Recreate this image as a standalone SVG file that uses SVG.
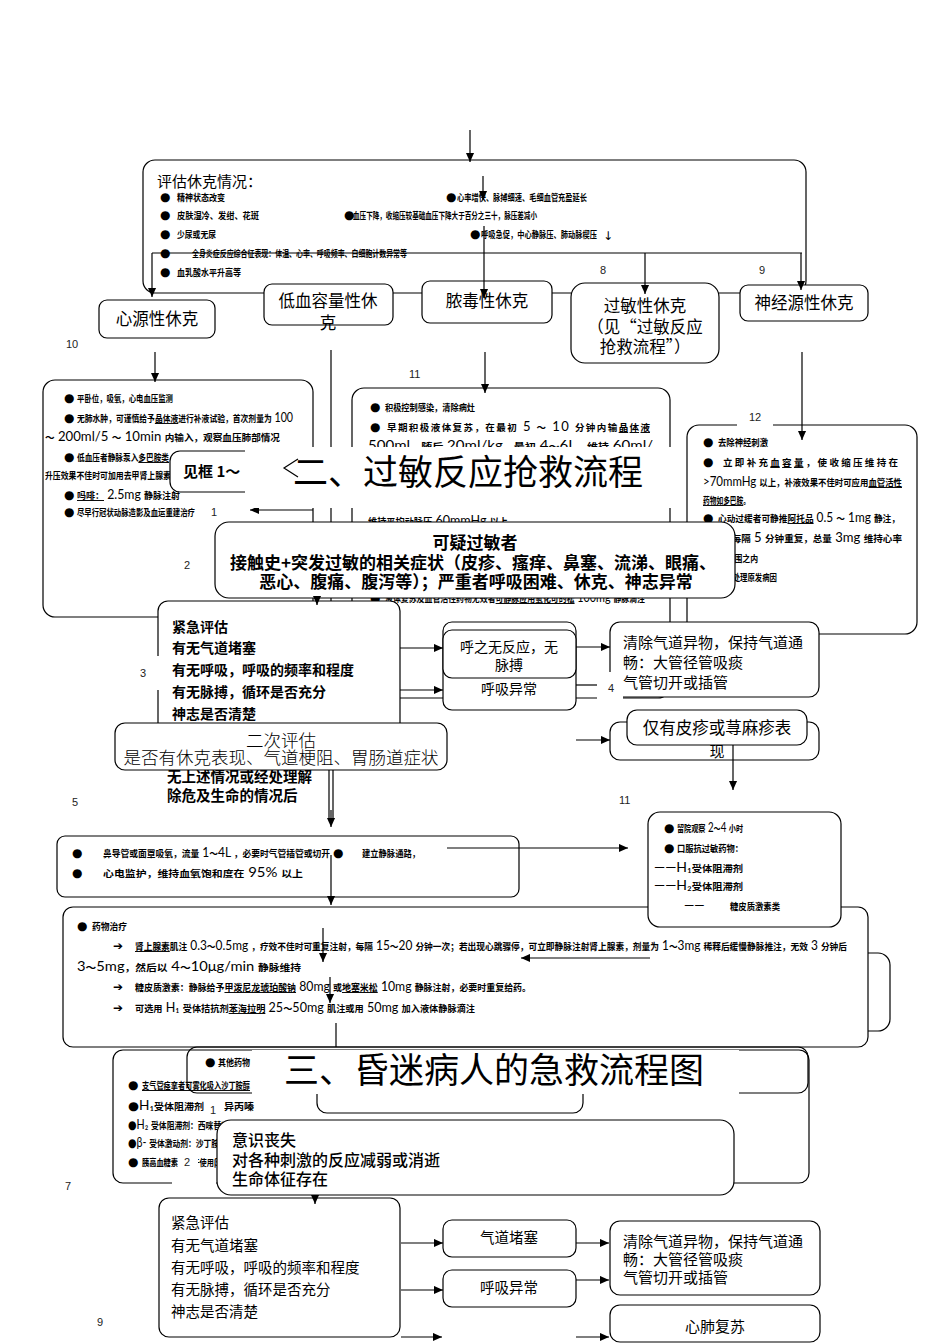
<svg xmlns="http://www.w3.org/2000/svg" width="950" height="1344" viewBox="0 0 950 1344">
<defs>
<marker id="ah" viewBox="0 0 10 10" refX="10" refY="5" markerWidth="9" markerHeight="9" markerUnits="userSpaceOnUse" orient="auto"><path d="M0,0.5 L10,5 L0,9.5 z" fill="#000"/></marker>
<style>
.b{fill:#fff;stroke:#000;stroke-width:1.2}
.o{fill:none;stroke:#000;stroke-width:1.2}
.ln{fill:none;stroke:#000;stroke-width:1.2}
.ar{fill:none;stroke:#000;stroke-width:1.2;marker-end:url(#ah)}
.t{font-family:Lato,"Liberation Sans","Noto Sans CJK SC",sans-serif;font-size:13px;fill:#000}
.c{font-family:"Noto Sans CJK SC",sans-serif;font-size:9.5px;font-weight:700}
.u{text-decoration:underline}
.d{font-family:"DejaVu Sans",sans-serif;font-size:12px;fill:#000}
.n{font-family:"Liberation Sans",Arial,sans-serif;font-size:11px;fill:#222}
.k{font-family:"Noto Sans CJK SC",sans-serif;fill:#000}
.s{font-family:"Noto Sans CJK SC",sans-serif;font-size:16.5px;fill:#000;text-anchor:middle}
.w{fill:#fff;stroke:none}
</style>
</defs>
<rect width="950" height="1344" fill="#fff"/>

<!-- top assessment box -->
<g id="assess-shock">
<rect class="b" x="143" y="160" width="663" height="133" rx="12"/>
<text class="k" x="157" y="187" font-size="15" fill="#222">评估休克情况：</text>
<text class="d" x="160" y="201">●</text><text class="t" x="177" y="201" textLength="48" lengthAdjust="spacingAndGlyphs"><tspan class="c">精神状态改变</tspan></text>
<text class="d" x="446" y="201">●</text><text class="t" x="457" y="201" textLength="130" lengthAdjust="spacingAndGlyphs"><tspan class="c">心率增快、脉搏细速、毛细血管充盈延长</tspan></text>
<text class="d" x="160" y="219">●</text><text class="t" x="177" y="219" textLength="82" lengthAdjust="spacingAndGlyphs"><tspan class="c">皮肤湿冷、发绀、花斑</tspan></text>
<text class="d" x="344" y="219">●</text><text class="t" x="353" y="219" textLength="184" lengthAdjust="spacingAndGlyphs"><tspan class="c">血压下降，收缩压较基础血压下降大于百分之三十，脉压差减小</tspan></text>
<text class="d" x="160" y="238">●</text><text class="t" x="177" y="238" textLength="39" lengthAdjust="spacingAndGlyphs"><tspan class="c">少尿或无尿</tspan></text>
<text class="d" x="470" y="238">●</text><text class="t" x="481" y="238" textLength="116" lengthAdjust="spacingAndGlyphs"><tspan class="c">呼吸急促，中心静脉压、肺动脉楔压</tspan></text>
<text class="d" x="603" y="240" font-size="11">↓</text>
<text class="d" x="160" y="257">●</text><text class="t" x="192" y="257" textLength="215" lengthAdjust="spacingAndGlyphs"><tspan class="c">全身炎症反应综合征表现：体温、心率、呼吸频率、白细胞计数异常等</tspan></text>
<text class="d" x="160" y="276">●</text><text class="t" x="177" y="276" textLength="64" lengthAdjust="spacingAndGlyphs"><tspan class="c">血乳酸水平升高等</tspan></text>
</g>

<!-- shock type nodes -->
<g id="cardiogenic"><rect class="b" x="99" y="300" width="116" height="38" rx="8"/><text class="s" x="157" y="325">心源性休克</text></g>
<g id="hypovolemic"><rect class="b" x="264" y="284" width="129" height="41" rx="8"/><text class="s" x="328" y="307">低血容量性休</text><text class="s" x="328" y="329">克</text></g>
<g id="septic"><rect class="b" x="422" y="281" width="130" height="42" rx="8"/><text class="s" x="487" y="307">脓毒性休克</text></g>
<g id="anaphylactic"><rect class="b" x="571" y="283" width="148" height="80" rx="14"/><text class="s" x="645" y="312">过敏性休克</text><text class="s" x="645" y="333">（见“过敏反应</text><text class="s" x="645" y="353">抢救流程”）</text></g>
<g id="neurogenic"><rect class="b" x="740" y="285" width="128" height="36" rx="8"/><text class="s" x="804" y="309">神经源性休克</text></g>

<g id="connectors-top">
<path class="ar" d="M470,130 V162"/>
<path class="ar" d="M483,176 V200"/>
<path class="ln" d="M152,253 H802"/>
<path class="ar" d="M152,253 V297"/>
<path class="ar" d="M645,253 V294"/>
<path class="ar" d="M801,253 V290"/>
<path class="ar" d="M484,226 V298"/>
</g>

<!-- treatment boxes -->
<g id="cardiogenic-care">
<rect class="b" x="43" y="380" width="270" height="237" rx="12"/>
<text class="d" x="64" y="402">●</text><text class="t" x="77" y="402" textLength="96" lengthAdjust="spacingAndGlyphs"><tspan class="c">平卧位，吸氧，心电血压监测</tspan></text>
<text class="d" x="64" y="422">●</text><text class="t" x="77" y="422" textLength="216" lengthAdjust="spacingAndGlyphs"><tspan class="c">无肺水肿，可谨慎给予</tspan><tspan class="c u">晶体液</tspan><tspan class="c">进行补液试验，首次剂量为</tspan> 100</text>
<text class="t" x="45" y="441" textLength="235" lengthAdjust="spacingAndGlyphs"><tspan class="c">～</tspan> 200ml/5 <tspan class="c">～</tspan> 10min <tspan class="c">内输入，观察血压肺部情况</tspan></text>
<text class="d" x="64" y="461">●</text><text class="t" x="77" y="461" textLength="92" lengthAdjust="spacingAndGlyphs"><tspan class="c">低血压者静脉泵入</tspan><tspan class="c u">多巴胺类</tspan></text>
<text class="t" x="45" y="479" textLength="126" lengthAdjust="spacingAndGlyphs"><tspan class="c">升压效果不佳时可加用去甲肾上腺素</tspan></text>
<text class="d" x="64" y="499">●</text><text class="t" x="77" y="499" textLength="103" lengthAdjust="spacingAndGlyphs"><tspan class="c u">吗啡：</tspan> 2.5mg <tspan class="c">静脉注射</tspan></text>
<text class="d" x="64" y="516">●</text><text class="t" x="77" y="516" textLength="118" lengthAdjust="spacingAndGlyphs"><tspan class="c">尽早行冠状动脉造影及血运重建治疗</tspan></text>
</g>

<g id="septic-care">
<rect class="b" x="352" y="388" width="318" height="310" rx="12"/>
<text class="d" x="370" y="411">●</text><text class="t" x="385" y="411" textLength="90" lengthAdjust="spacingAndGlyphs"><tspan class="c">积极控制感染，清除病灶</tspan></text>
<text class="d" x="370" y="431">●</text><text class="t" x="387" y="431" textLength="263" lengthAdjust="spacing"><tspan class="c">早期积极液体复苏，在最初</tspan> 5 <tspan class="c">～</tspan> 10 <tspan class="c">分钟内输</tspan><tspan class="c u">晶体液</tspan></text>
<text class="t" x="368" y="450" textLength="285" lengthAdjust="spacingAndGlyphs">500ml<tspan class="c">，随后</tspan> 20ml/kg<tspan class="c">，最初</tspan> 4<tspan class="c">～</tspan>6L<tspan class="c">，维持</tspan> 60ml/</text>
<text class="t" x="368" y="525" textLength="140" lengthAdjust="spacingAndGlyphs"><tspan class="c">维持平均动脉压</tspan> 60mmHg <tspan class="c">以上</tspan></text>
<text class="d" x="370" y="602">●</text><text class="t" x="385" y="602" textLength="260" lengthAdjust="spacingAndGlyphs"><tspan class="c">液体复苏及血管活性药物无效者</tspan><tspan class="c u">可静脉应用氢化可的松</tspan> 100mg <tspan class="c">静脉滴注</tspan></text>
</g>

<g id="neurogenic-care">
<rect class="b" x="687" y="425" width="230" height="209" rx="12"/>
<text class="d" x="703" y="446">●</text><text class="t" x="718" y="446" textLength="50" lengthAdjust="spacingAndGlyphs"><tspan class="c">去除神经刺激</tspan></text>
<text class="d" x="703" y="466">●</text><text class="t" x="723" y="466" textLength="175" lengthAdjust="spacing"><tspan class="c">立即补充</tspan><tspan class="c u">血容量</tspan><tspan class="c">，使收缩压维持在</tspan></text>
<text class="t" x="703" y="486" textLength="199" lengthAdjust="spacingAndGlyphs">&gt;70mmHg <tspan class="c">以上，补液效果不佳时可应用</tspan><tspan class="c u">血管活性</tspan></text>
<text class="t" x="703" y="504" textLength="47" lengthAdjust="spacingAndGlyphs"><tspan class="c u">药物如多巴胺</tspan><tspan class="c">。</tspan></text>
<text class="d" x="703" y="522">●</text><text class="t" x="718" y="522" textLength="182" lengthAdjust="spacingAndGlyphs"><tspan class="c">心动过缓者可静推</tspan><tspan class="c u">阿托品</tspan> 0.5 <tspan class="c">～</tspan> 1mg <tspan class="c">静注，</tspan></text>
<text class="t" x="703" y="542" textLength="199" lengthAdjust="spacingAndGlyphs"><tspan class="c">必要时每隔</tspan> 5 <tspan class="c">分钟重复，总量</tspan> 3mg <tspan class="c">维持心率</tspan></text>
<text class="t" x="703" y="562" textLength="55" lengthAdjust="spacingAndGlyphs"><tspan class="c">在正常范围之内</tspan></text>
<text class="d" x="703" y="581">●</text><text class="t" x="718" y="581" textLength="59" lengthAdjust="spacingAndGlyphs"><tspan class="c">积极处理原发病因</tspan></text>
</g>

<g id="connectors-shock">
<path class="ar" d="M155,352 V382"/>
<path class="ln" d="M331,350 V612"/>
<path class="ar" d="M485,352 V393"/>
<path class="ar" d="M802,352 V440"/>
<path class="ar" d="M313,510 H250"/>
</g>

<g id="see-box"><rect class="b" x="170" y="451" width="110" height="41" rx="10"/><text class="k" x="183" y="477" font-size="15" font-weight="700">见框 1～</text></g>

<g id="title-allergy">
<rect class="w" x="245" y="447" width="440" height="61"/>
<polyline class="ln" points="298,459 284,468 298,477"/>
<text class="k" x="293" y="485" font-size="35">二、过敏反应抢救流程</text>
</g>

<g id="suspected-allergy">
<rect class="b" x="215" y="522" width="520" height="76" rx="14"/>
<text class="k" x="475" y="549" font-size="17" font-weight="700" text-anchor="middle">可疑过敏者</text>
<text class="k" x="473" y="569" font-size="17" font-weight="700" text-anchor="middle">接触史+突发过敏的相关症状（皮疹、瘙痒、鼻塞、流涕、眼痛、</text>
<text class="k" x="476" y="588" font-size="17" font-weight="700" text-anchor="middle">恶心、腹痛、腹泻等）；严重者呼吸困难、休克、神志异常</text>
</g>

<g id="urgent-assessment">
<rect class="b" x="158" y="601" width="242" height="159" rx="10"/>
<text class="k" x="172" y="632" font-size="14" font-weight="700">紧急评估</text>
<text class="k" x="172" y="653" font-size="14" font-weight="700">有无气道堵塞</text>
<text class="k" x="172" y="675" font-size="14" font-weight="700">有无呼吸，呼吸的频率和程度</text>
<text class="k" x="172" y="697" font-size="14" font-weight="700">有无脉搏，循环是否充分</text>
<text class="k" x="172" y="719" font-size="14" font-weight="700">神志是否清楚</text>
<text class="k" x="167" y="782" font-size="14.5" font-weight="700">无上述情况或经处理解</text>
<text class="k" x="167" y="801" font-size="14.5" font-weight="700">除危及生命的情况后</text>
</g>

<g id="breathing-abnormal">
<rect class="b" x="443" y="622" width="133" height="88" rx="9"/>
<text class="k" x="509" y="694" font-size="14" text-anchor="middle">呼吸异常</text>
</g>
<g id="no-response">
<rect class="b" x="443" y="630" width="133" height="48" rx="9"/>
<text class="k" x="509" y="652" font-size="14" text-anchor="middle">呼之无反应，无</text>
<text class="k" x="509" y="670" font-size="14" text-anchor="middle">脉搏</text>
</g>
<g id="clear-airway">
<rect class="b" x="610" y="622" width="209" height="75" rx="10"/>
<text class="k" x="623" y="648" font-size="15">清除气道异物，保持气道通</text>
<text class="k" x="623" y="668" font-size="15">畅：大管径管吸痰</text>
<text class="k" x="623" y="688" font-size="15">气管切开或插管</text>
</g>
<g id="rash-only">
<rect class="b" x="610" y="722" width="209" height="38" rx="10"/>
<text class="k" x="717" y="757" font-size="15" fill="#555" text-anchor="middle">现</text>
<rect class="b" x="627" y="710" width="180" height="35" rx="10"/>
<text class="k" x="717" y="734" font-size="16.5" text-anchor="middle">仅有皮疹或荨麻疹表</text>
</g>
<g id="secondary-assessment">
<rect class="b" x="115" y="723" width="332" height="47" rx="10"/>
<text class="k" x="281" y="747" font-size="17.5" font-weight="300" fill="#333" text-anchor="middle">二次评估</text>
<text class="k" x="281" y="764" font-size="17.5" font-weight="300" fill="#333" text-anchor="middle">是否有休克表现、气道梗阻、胃肠道症状</text>
</g>

<g id="connectors-allergy">
<path class="ar" d="M317,597 V605"/>
<path class="ar" d="M400,648 H443"/>
<path class="ar" d="M400,690 H443"/>
<path class="ln" d="M576,685 H598"/>
<path class="ar" d="M576,647 H610"/>
<path class="ar" d="M576,740 H610"/>
<path class="ar" d="M733,745 V790"/>
<path class="ln" d="M329,770 V818 M333,770 V818"/>
<path class="ar" d="M331,810 V827"/>
</g>

<g id="oxygen">
<rect class="b" x="57" y="836" width="462" height="61" rx="8"/>
<text class="d" x="72" y="857">●</text><text class="t" x="103" y="857" textLength="227" lengthAdjust="spacingAndGlyphs"><tspan class="c">鼻导管或面罩吸氧，流量</tspan> 1<tspan class="c">～</tspan>4L <tspan class="c">，必要时气管插管或切开</tspan></text>
<text class="d" x="333" y="857">●</text><text class="t" x="362" y="857" textLength="58" lengthAdjust="spacingAndGlyphs"><tspan class="c">建立静脉通路，</tspan></text>
<text class="d" x="72" y="877">●</text><text class="t" x="103" y="877" textLength="200" lengthAdjust="spacingAndGlyphs"><tspan class="c">心电监护，维持血氧饱和度在</tspan> 95% <tspan class="c">以上</tspan></text>
</g>

<g id="side-box"><rect class="b" x="700" y="953" width="190" height="78" rx="12"/></g>

<g id="drug-therapy">
<rect class="b" x="63" y="907" width="805" height="140" rx="10"/>
<text class="d" x="77" y="930">●</text><text class="t" x="92" y="930" textLength="35" lengthAdjust="spacingAndGlyphs"><tspan class="c">药物治疗</tspan></text>
<text class="d" x="113" y="950">➔</text><text class="t" x="135" y="950" textLength="712" lengthAdjust="spacingAndGlyphs"><tspan class="c u">肾上腺素</tspan><tspan class="c">肌注</tspan> 0.3<tspan class="c">～</tspan>0.5mg <tspan class="c">，疗效不佳时可重复注射，每隔</tspan> 15<tspan class="c">～</tspan>20 <tspan class="c">分钟一次；若出现心跳骤停，可立即静脉注射肾上腺素，剂量为</tspan> 1<tspan class="c">～</tspan>3mg <tspan class="c">稀释后缓慢静脉推注，无效</tspan> 3 <tspan class="c">分钟后</tspan></text>
<text class="t" x="77" y="971" textLength="224" lengthAdjust="spacingAndGlyphs">3<tspan class="c">～</tspan>5mg<tspan class="c">，然后以</tspan> 4<tspan class="c">～</tspan>10μg/min <tspan class="c">静脉维持</tspan></text>
<text class="d" x="113" y="991">➔</text><text class="t" x="135" y="991" textLength="396" lengthAdjust="spacingAndGlyphs"><tspan class="c">糖皮质激素：静脉给予</tspan><tspan class="c u">甲泼尼龙琥珀酸钠</tspan> 80mg <tspan class="c">或</tspan><tspan class="c u">地塞米松</tspan> 10mg <tspan class="c">静脉注射，必要时重复给药。</tspan></text>
<text class="d" x="113" y="1012">➔</text><text class="t" x="135" y="1012" textLength="340" lengthAdjust="spacingAndGlyphs"><tspan class="c">可选用</tspan> H₁ <tspan class="c">受体拮抗剂</tspan><tspan class="c u">苯海拉明</tspan> 25<tspan class="c">～</tspan>50mg <tspan class="c">肌注或用</tspan> 50mg <tspan class="c">加入液体静脉滴注</tspan></text>
</g>

<g id="observe">
<rect class="b" x="648" y="812" width="193" height="115" rx="12"/>
<text class="d" x="664" y="832">●</text><text class="t" x="677" y="832" textLength="66" lengthAdjust="spacingAndGlyphs"><tspan class="c">留院观察</tspan> 2<tspan class="c">～</tspan>4 <tspan class="c">小时</tspan></text>
<text class="d" x="664" y="852">●</text><text class="t" x="677" y="852" textLength="66" lengthAdjust="spacingAndGlyphs"><tspan class="c">口服抗过敏药物：</tspan></text>
<text class="t" x="654" y="872" textLength="89" lengthAdjust="spacingAndGlyphs">——H₁<tspan class="c">受体阻滞剂</tspan></text>
<text class="t" x="654" y="890" textLength="89" lengthAdjust="spacingAndGlyphs">——H₂<tspan class="c">受体阻滞剂</tspan></text>
<text class="t" x="684" y="910">——</text><text class="t" x="730" y="910" textLength="50" lengthAdjust="spacingAndGlyphs"><tspan class="c">糖皮质激素类</tspan></text>
</g>

<g id="connectors-drug">
<path class="ar" d="M447,848 H628"/>
<path class="ar" d="M331,855 V905"/>
<path class="ar" d="M650,958 H521"/>
<path class="ar" d="M323,928 V962"/>
<path class="ar" d="M330,977 V1003"/>
<path class="ln" d="M336,1023 V1047"/>
</g>

<g id="other-drugs">
<rect class="b" x="113" y="1050" width="696" height="133" rx="10"/>
<rect class="o" x="187" y="1047" width="621" height="46" rx="10"/>
<rect class="b" x="317" y="1070" width="266" height="43" rx="10"/>
<text class="d" x="205" y="1066">●</text><text class="t" x="218" y="1066" textLength="32" lengthAdjust="spacingAndGlyphs"><tspan class="c">其他药物</tspan></text>
<text class="d" x="128" y="1089">●</text><text class="t" x="142" y="1089" textLength="108" lengthAdjust="spacingAndGlyphs"><tspan class="c u">支气管痉挛者可雾化吸入沙丁胺醇</tspan></text>
<text class="t" x="128" y="1110" textLength="126" lengthAdjust="spacingAndGlyphs"><tspan class="d">●</tspan>H₁<tspan class="c">受体阻滞剂，如异丙嗪</tspan></text>
<text class="t" x="128" y="1129" textLength="140" lengthAdjust="spacingAndGlyphs"><tspan class="d">●</tspan>H₂ <tspan class="c">受体阻滞剂：西咪替丁、雷尼替丁</tspan></text>
<text class="t" x="128" y="1147" textLength="130" lengthAdjust="spacingAndGlyphs"><tspan class="d">●</tspan>β- <tspan class="c">受体激动剂：沙丁胺醇雾化吸入</tspan></text>
<text class="d" x="128" y="1166">●</text><text class="t" x="142" y="1166" textLength="120" lengthAdjust="spacingAndGlyphs"><tspan class="c">胰高血糖素，用于使用β受体阻滞剂者</tspan></text>
</g>

<g id="title-coma">
<rect class="w" x="252" y="1050" width="487" height="44"/>
<text class="k" x="284" y="1083" font-size="35">三、昏迷病人的急救流程图</text>
</g>

<g id="unconscious">
<rect class="b" x="217" y="1120" width="517" height="75" rx="14"/>
<text class="k" x="232" y="1146" font-size="16" font-weight="500">意识丧失</text>
<text class="k" x="232" y="1166" font-size="16" font-weight="500">对各种刺激的反应减弱或消逝</text>
<text class="k" x="232" y="1185" font-size="16" font-weight="500">生命体征存在</text>
</g>

<g id="urgent-assessment-2">
<rect class="b" x="159" y="1198" width="241" height="139" rx="10"/>
<text class="k" x="171" y="1228" font-size="14.5">紧急评估</text>
<text class="k" x="171" y="1251" font-size="14.5">有无气道堵塞</text>
<text class="k" x="171" y="1273" font-size="14.5">有无呼吸，呼吸的频率和程度</text>
<text class="k" x="171" y="1295" font-size="14.5">有无脉搏，循环是否充分</text>
<text class="k" x="171" y="1317" font-size="14.5">神志是否清楚</text>
</g>
<g id="airway-blocked"><rect class="b" x="443" y="1220" width="133" height="37" rx="9"/><text class="k" x="509" y="1243" font-size="14.5" text-anchor="middle">气道堵塞</text></g>
<g id="breathing-abnormal-2"><rect class="b" x="443" y="1270" width="133" height="37" rx="9"/><text class="k" x="509" y="1293" font-size="14.5" text-anchor="middle">呼吸异常</text></g>
<g id="clear-airway-2">
<rect class="b" x="610" y="1221" width="210" height="74" rx="10"/>
<text class="k" x="623" y="1247" font-size="15">清除气道异物，保持气道通</text>
<text class="k" x="623" y="1265" font-size="15">畅：大管径管吸痰</text>
<text class="k" x="623" y="1283" font-size="15">气管切开或插管</text>
</g>
<g id="cpr"><rect class="b" x="610" y="1305" width="210" height="37" rx="10"/><text class="k" x="715" y="1332" font-size="15" text-anchor="middle">心肺复苏</text></g>

<g id="connectors-coma">
<path class="ar" d="M315,1195 V1204"/>
<path class="ar" d="M401,1243 H443"/>
<path class="ar" d="M401,1290 H443"/>
<path class="ar" d="M401,1337 H442"/>
<path class="ar" d="M576,1243 H609"/>
<path class="ar" d="M576,1280 H609"/>
<path class="ar" d="M576,1337 H609"/>
</g>

<g id="page-labels">
<text class="n" x="600" y="274">8</text>
<text class="n" x="759" y="274">9</text>
<text class="n" x="66" y="348">10</text>
<text class="n" x="409" y="378">11</text>
<rect class="w" x="737" y="408" width="36" height="22"/><text class="n" x="749" y="421">12</text>
<text class="n" x="211" y="516">1</text>
<text class="n" x="184" y="569">2</text>
<text class="n" x="140" y="677">3</text><rect class="w" x="147" y="656" width="24" height="34"/>
<rect class="w" x="597" y="672" width="26" height="27"/><text class="n" x="608" y="692">4</text>
<text class="n" x="72" y="806">5</text>
<text class="n" x="619" y="804">11</text>
<text class="n" x="65" y="1190">7</text>
<rect class="w" x="204" y="1098" width="20" height="20"/><text class="n" x="210" y="1114">1</text>
<rect class="w" x="178" y="1151" width="20" height="20"/><text class="n" x="184" y="1166">2</text>
<rect class="w" x="172" y="1175" width="44" height="16"/>
<text class="n" x="97" y="1326">9</text>
</g>
</svg>
